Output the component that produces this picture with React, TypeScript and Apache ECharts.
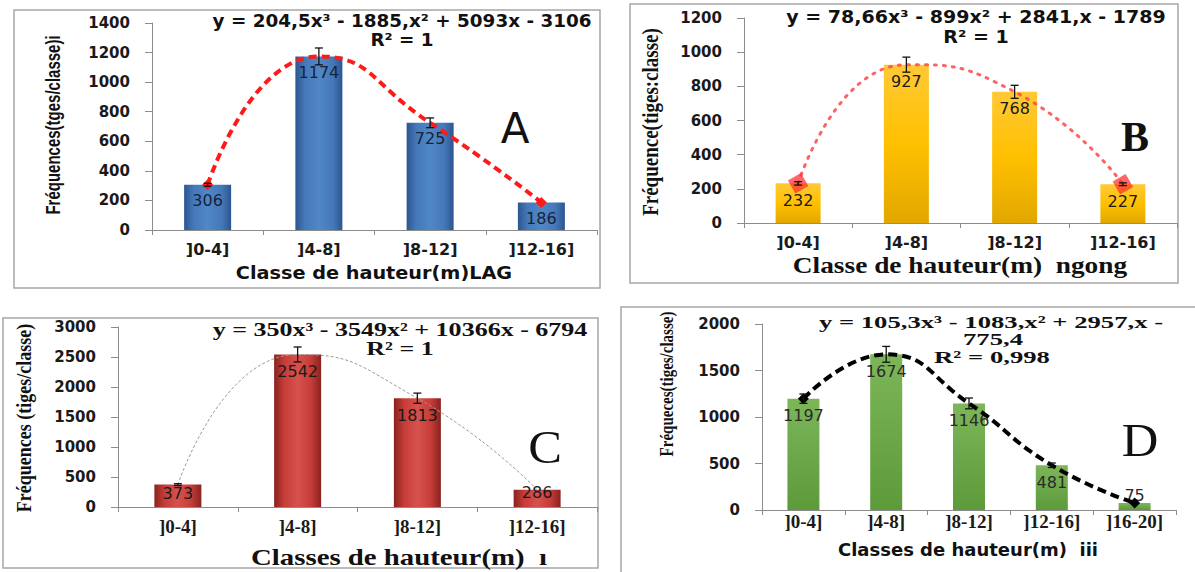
import React, { useEffect, useRef } from "react";
import * as echarts from "echarts";

// ---------- data ----------
const categories4 = ["]0-4]", "]4-8]", "]8-12]", "]12-16]"];
const categories5 = ["]0-4]", "]4-8]", "]8-12]", "]12-16]", "]16-20]"];

const valuesA = [306, 1174, 725, 186];
const errorsA = [10, 57, 33, 0];
const valuesB = [232, 927, 768, 227];
const errorsB = [10, 44, 38, 8];
const valuesC = [373, 2542, 1813, 286];
const errorsC = [15, 125, 85, 0];
const valuesD = [1197, 1674, 1146, 481, 75];
const errorsD = [50, 85, 58, 24, 0];

const yMaxA = 1400, yStepA = 200;
const yMaxB = 1200, yStepB = 200;
const yMaxC = 3000, yStepC = 500;
const yMaxD = 2000, yStepD = 500;

const eqA = "y = 204,5x³ - 1885,x² + 5093x - 3106";
const r2A = "R² = 1";
const eqB = "y = 78,66x³ - 899x² + 2841,x - 1789";
const r2B = "R² = 1";
const eqC = "y = 350x³ - 3549x² + 10366x - 6794";
const r2C = "R² = 1";
const eqD1 = "y = 105,3x³ - 1083,x² + 2957,x -";
const eqD2 = "775,4";
const r2D = "R² = 0,998";

const SANS = '"DejaVu Sans", Verdana, sans-serif';
const SERIF = '"Liberation Serif", "Times New Roman", serif';
const NARROW = '"Liberation Sans Narrow", "Liberation Sans", Arial, sans-serif';

function hGrad(stops: [number, string][]) {
  return new echarts.graphic.LinearGradient(0, 0, 1, 0, stops.map(([offset, color]) => ({ offset, color })));
}
function vGrad(stops: [number, string][]) {
  return new echarts.graphic.LinearGradient(0, 0, 0, 1, stops.map(([offset, color]) => ({ offset, color })));
}

function errorData(values: number[], errors: number[]) {
  return values
    .map((v, i) => [i, v - errors[i], v + errors[i], errors[i]])
    .filter((d) => d[3] > 0);
}

function renderError(params: any, api: any) {
  const x = api.value(0);
  const lo = api.coord([x, api.value(1)]);
  const hi = api.coord([x, api.value(2)]);
  const hw = 4;
  const st = { stroke: "#111", lineWidth: 1.3 };
  return {
    type: "group",
    children: [
      { type: "line", shape: { x1: lo[0], y1: lo[1], x2: hi[0], y2: hi[1] }, style: st },
      { type: "line", shape: { x1: lo[0] - hw, y1: lo[1], x2: lo[0] + hw, y2: lo[1] }, style: st },
      { type: "line", shape: { x1: hi[0] - hw, y1: hi[1], x2: hi[0] + hw, y2: hi[1] }, style: st },
    ],
  };
}

function endMarked(values: number[], symbol: string, size: number, rotate = 0) {
  return values.map((v, i) => ({
    value: v,
    symbol: i === 0 || i === values.length - 1 ? symbol : "none",
    symbolSize: size,
    symbolRotate: rotate,
  }));
}

function xAxisCfg(gridIndex: number, data: string[], font: string, size: number, margin: number) {
  return {
    type: "category",
    gridIndex,
    data,
    axisLine: { show: true, lineStyle: { color: "#8c8c8c", width: 1 } },
    axisTick: { show: true, length: 5, inside: false, alignWithLabel: false, lineStyle: { color: "#8c8c8c" } },
    axisLabel: { margin, color: "#1a1a1a", fontFamily: font, fontWeight: "bold", fontSize: size, interval: 0 },
    splitLine: { show: false },
  };
}

function yAxisCfg(gridIndex: number, max: number, step: number) {
  return {
    type: "value",
    gridIndex,
    min: 0,
    max,
    interval: step,
    axisLine: { show: true, lineStyle: { color: "#8c8c8c", width: 1 } },
    axisTick: { show: true, length: 7, inside: false, lineStyle: { color: "#8c8c8c" } },
    axisLabel: {
      margin: 22, color: "#1a1a1a", fontFamily: SANS, fontWeight: "bold", fontSize: 15,
      formatter: (v: number) => String(v),
    },
    splitLine: { show: false },
  };
}

function txt(x: number, y: number, text: string, font: string, extra: any = {}) {
  return {
    type: "text",
    x,
    y,
    silent: true,
    z: 50,
    ...extra,
    style: { text, font, fill: "#111", textAlign: "center", textVerticalAlign: "middle", verticalAlign: "middle" },
  };
}

function frame(x: number, y: number, w: number, h: number) {
  return {
    type: "rect",
    silent: true,
    z: 0,
    shape: { x, y, width: w, height: h },
    style: { fill: "none", stroke: "#a6a6a6", lineWidth: 1.5 },
  };
}

export default function App() {
  const ref = useRef<HTMLDivElement>(null);

  useEffect(() => {
    document.body.style.margin = "0";
    if (!ref.current) return;
    const chart = echarts.init(ref.current, null, { renderer: "svg" });

    const barLabel = (color: string) => ({
      show: true,
      position: "insideTop",
      distance: 8,
      color,
      fontFamily: SANS,
      fontSize: 16,
      formatter: "{c}",
    });

    const dataC = valuesC.map((v, i) => {
      if (i === 0) return { value: v, label: { distance: 1 } };
      if (i === valuesC.length - 1) return { value: v, label: { distance: 0, offset: [0, -5] } };
      return v;
    });
    const dataD = valuesD.map((v, i) =>
      i === valuesD.length - 1 ? { value: v, label: { position: "top", distance: 0 } } : v
    );

    const vert = { rotation: Math.PI / 2, scaleY: 1.2 };

    const option: any = {
      animation: false,
      grid: [
        { left: 152, top: 23, width: 445, height: 207 },
        { left: 744, top: 18, width: 433, height: 205 },
        { left: 118, top: 327, width: 479, height: 180 },
        { left: 762, top: 324, width: 414, height: 186 },
      ],
      xAxis: [
        xAxisCfg(0, categories4, SANS, 16, 11),
        xAxisCfg(1, categories4, SANS, 16, 11),
        xAxisCfg(2, categories4, SERIF, 19, 10),
        xAxisCfg(3, categories5, SERIF, 19, 2),
      ],
      yAxis: [
        yAxisCfg(0, yMaxA, yStepA),
        yAxisCfg(1, yMaxB, yStepB),
        yAxisCfg(2, yMaxC, yStepC),
        yAxisCfg(3, yMaxD, yStepD),
      ],
      series: [
        // ----- A -----
        {
          type: "bar", xAxisIndex: 0, yAxisIndex: 0, data: valuesA, barWidth: 47, z: 2,
          itemStyle: { color: hGrad([[0, "#2B5690"], [0.2, "#4578B8"], [0.5, "#5087C7"], [0.8, "#4578B8"], [1, "#2B5690"]]) },
          label: barLabel("#17233a"),
        },
        {
          type: "line", xAxisIndex: 0, yAxisIndex: 0, data: endMarked(valuesA, "diamond", 11), smooth: 0.55, z: 3,
          lineStyle: { color: "#ff1a1a", width: 4, type: [8, 5] },
          itemStyle: { color: "#ff1a1a" },
        },
        {
          type: "custom", xAxisIndex: 0, yAxisIndex: 0, data: errorData(valuesA, errorsA), renderItem: renderError, z: 4,
          encode: { x: 0, y: [1, 2] },
        },
        // ----- B -----
        {
          type: "bar", xAxisIndex: 1, yAxisIndex: 1, data: valuesB, barWidth: 45, z: 2,
          itemStyle: { color: vGrad([[0, "#FFC936"], [0.5, "#FFC000"], [1, "#E2A700"]]) },
          label: { ...barLabel("#1a1a1a"), distance: 9 },
        },
        {
          type: "line", xAxisIndex: 1, yAxisIndex: 1, data: endMarked(valuesB, "rect", 15, 30), smooth: 0.55, z: 3,
          lineStyle: { color: "rgba(255,70,70,0.85)", width: 3, type: [2, 7], cap: "round" },
          itemStyle: { color: "rgba(255,40,40,0.7)" },
        },
        {
          type: "custom", xAxisIndex: 1, yAxisIndex: 1, data: errorData(valuesB, errorsB), renderItem: renderError, z: 4,
          encode: { x: 0, y: [1, 2] },
        },
        // ----- C -----
        {
          type: "bar", xAxisIndex: 2, yAxisIndex: 2, data: dataC, barWidth: 47, z: 2,
          itemStyle: { color: hGrad([[0, "#8A221F"], [0.22, "#C63D39"], [0.5, "#D6524D"], [0.78, "#C63D39"], [1, "#8A221F"]]) },
          label: { ...barLabel("#1a1a1a"), distance: 9 },
        },
        {
          type: "line", xAxisIndex: 2, yAxisIndex: 2, data: valuesC, smooth: 0.55, symbol: "none", z: 3,
          lineStyle: { color: "#9a9a9a", width: 1, type: [3, 2] },
        },
        {
          type: "custom", xAxisIndex: 2, yAxisIndex: 2, data: errorData(valuesC, errorsC), renderItem: renderError, z: 4,
          encode: { x: 0, y: [1, 2] },
        },
        // ----- D -----
        {
          type: "bar", xAxisIndex: 3, yAxisIndex: 3, data: dataD, barWidth: 32, z: 2,
          itemStyle: { color: vGrad([[0, "#7CB659"], [1, "#5D9A3A"]]) },
          label: { ...barLabel("#2a2a2a"), distance: 9 },
        },
        {
          type: "line", xAxisIndex: 3, yAxisIndex: 3, data: endMarked(valuesD, "diamond", 11), smooth: 0.5, z: 3,
          lineStyle: { color: "#000", width: 4, type: [9, 5] },
          itemStyle: { color: "#000" },
        },
        {
          type: "custom", xAxisIndex: 3, yAxisIndex: 3, data: errorData(valuesD, errorsD), renderItem: renderError, z: 4,
          encode: { x: 0, y: [1, 2] },
        },
      ],
      graphic: [
        frame(14, 10, 586, 278),
        frame(630, 4, 548, 279),
        frame(3, 318, 595, 250),
        frame(621, 307, 600, 300),
        // A
        txt(402, 21, eqA, `bold 17px ${SANS}`, { scaleX: 1.08 }),
        txt(402, 40, r2A, `bold 17px ${SANS}`, { scaleX: 1.08 }),
        txt(515, 128, "A", `42px ${SANS}`),
        txt(374, 273, "Classe de hauteur(m)LAG", `bold 18px ${SANS}`, { scaleX: 1.07 }),
        txt(53, 125, "Fréquences(tges/classe)i", `bold 15px ${NARROW}`, { rotation: Math.PI / 2, scaleY: 1.4 }),
        // B
        txt(976, 17, eqB, `bold 17px ${SANS}`, { scaleX: 1.12 }),
        txt(976, 37, r2B, `bold 17px ${SANS}`, { scaleX: 1.12 }),
        txt(1135, 137, "B", `bold 42px ${SERIF}`),
        txt(960, 265, "Classe de hauteur(m)  ngong", `bold 23px ${SERIF}`, { scaleX: 1.19 }),
        txt(650, 122, "Fréquence(tiges:classe)", `bold 19px ${SERIF}`, vert),
        // C
        txt(400, 330, eqC, `bold 19px ${SERIF}`, { scaleX: 1.37 }),
        txt(400, 349, r2C, `bold 19px ${SERIF}`, { scaleX: 1.37 }),
        txt(545, 447, "C", `46px ${SERIF}`, { scaleX: 1.1 }),
        txt(399, 557, "Classes de hauteur(m)  ı", `bold 24px ${SERIF}`, { scaleX: 1.2 }),
        txt(23, 418, "Fréquences (tiges/classe)", `bold 18px ${SERIF}`, vert),
        // D
        txt(991, 322, eqD1, `bold 17px ${SERIF}`, { scaleX: 1.57 }),
        txt(993, 339, eqD2, `bold 17px ${SERIF}`, { scaleX: 1.57 }),
        txt(992, 357, r2D, `bold 17px ${SERIF}`, { scaleX: 1.57 }),
        txt(1140, 440, "D", `46px ${SERIF}`, { scaleX: 1.1 }),
        txt(968, 550, "Classes de hauteur(m)  iii", `bold 17px ${SANS}`, { scaleX: 1.06 }),
        txt(667, 384, "Fréqueces(tiges/classe)", `bold 15px ${SERIF}`, vert),
      ],
    };

    chart.setOption(option);
    return () => chart.dispose();
  }, []);

  return <div ref={ref} style={{ width: 1195, height: 572, background: "#fff" }} />;
}
